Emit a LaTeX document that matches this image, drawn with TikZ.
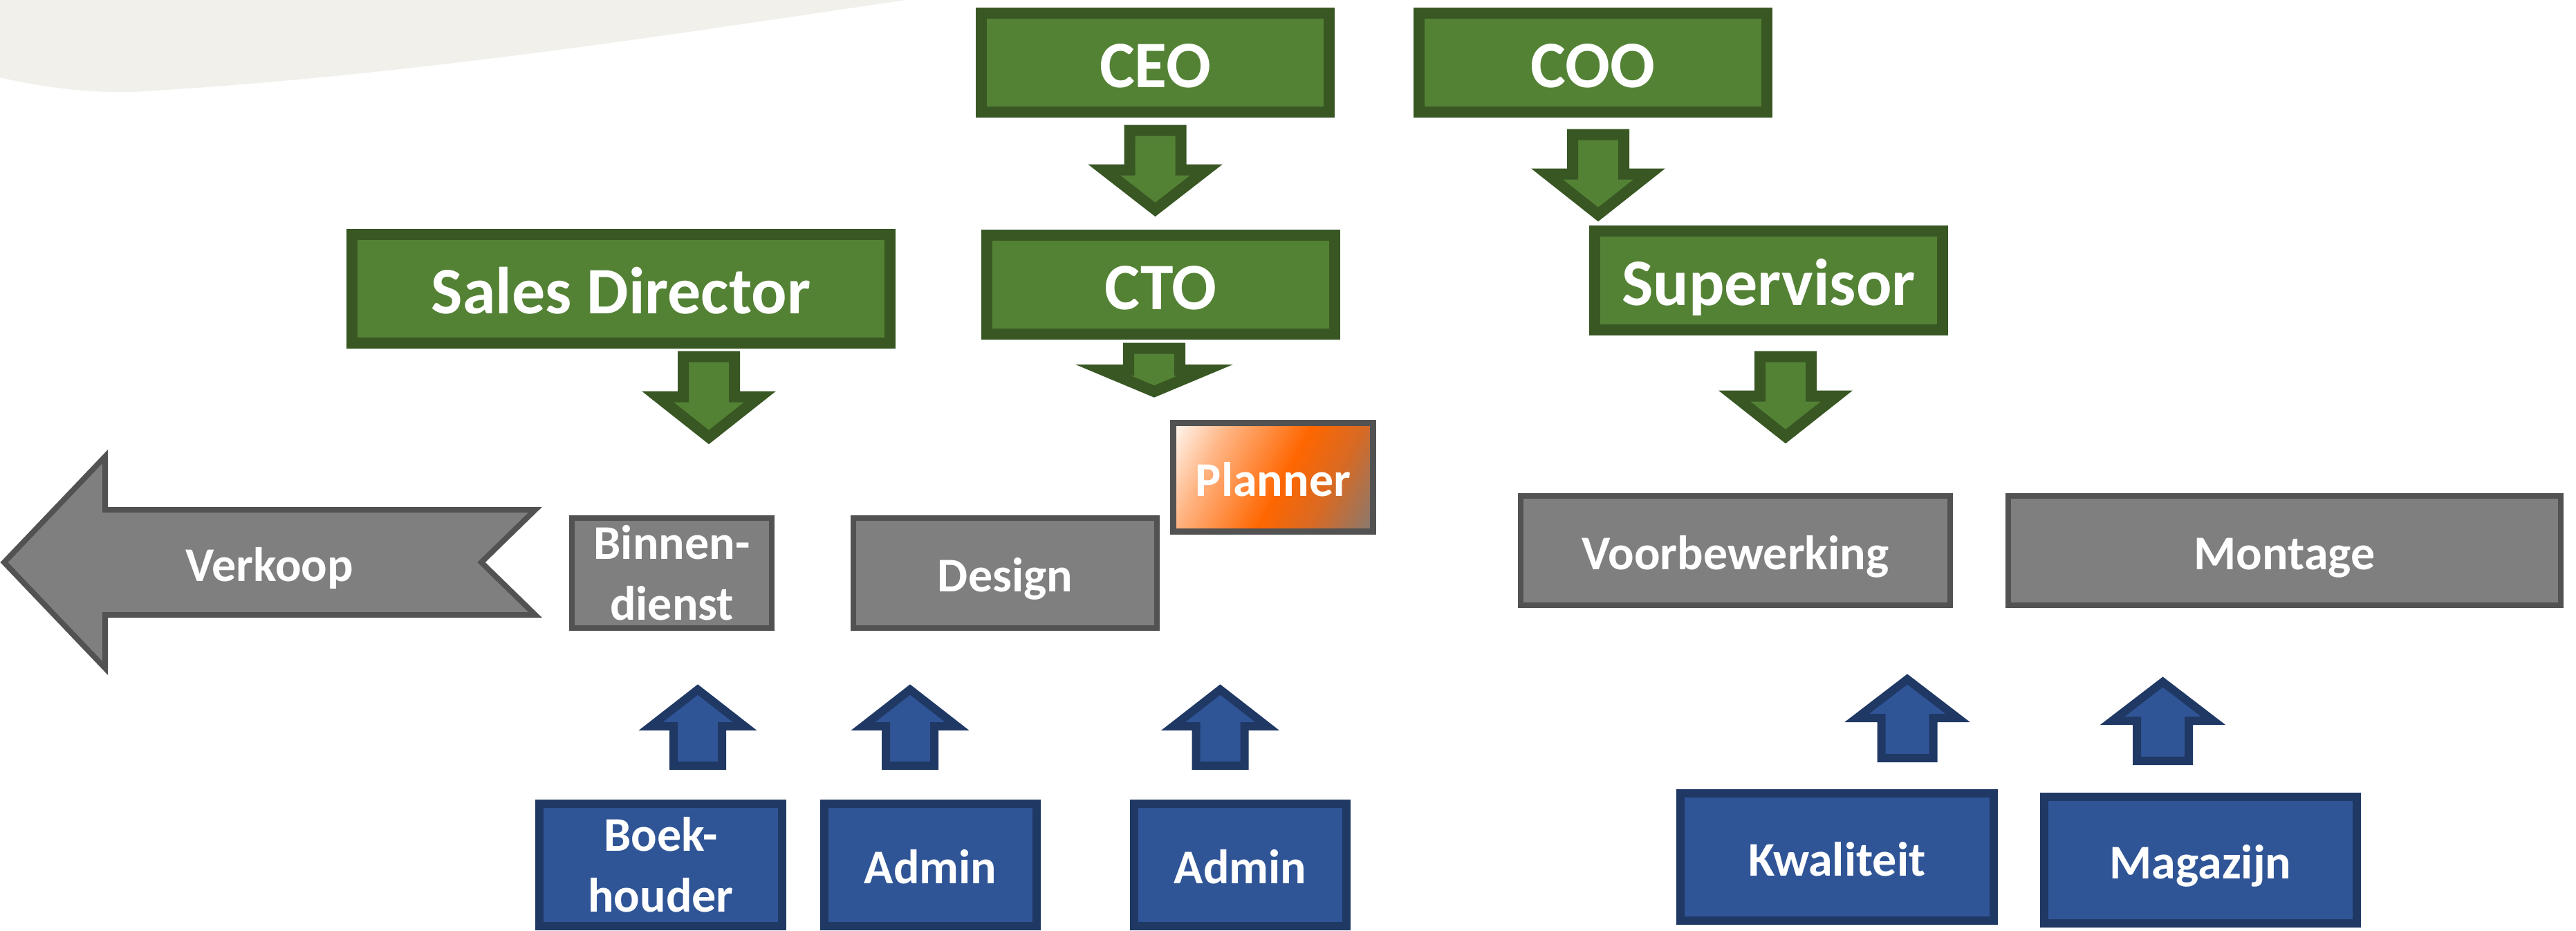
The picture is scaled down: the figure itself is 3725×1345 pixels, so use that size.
\documentclass[tikz,border=0pt]{standalone}
\usepackage{fontspec}
\usetikzlibrary{calc}
\setmainfont{Carlito}
\definecolor{gfill}{HTML}{548235}
\definecolor{gline}{HTML}{385723}
\definecolor{grfill}{HTML}{7F7F7F}
\definecolor{grline}{HTML}{525252}
\definecolor{bfill}{HTML}{2F5597}
\definecolor{bline}{HTML}{203864}
\definecolor{swooshc}{HTML}{F1F0EB}
\definecolor{pka}{HTML}{FFFAF5}
\definecolor{pkb}{HTML}{FFB584}
\definecolor{pkc}{HTML}{FF6600}
\definecolor{pkd}{HTML}{D86A24}
\definecolor{pke}{HTML}{857A72}
\newcommand{\bigfnt}{\fontsize{96}{115}\selectfont\bfseries}
\newcommand{\smallfnt}{\fontsize{70}{88}\selectfont\bfseries}
\newcommand{\blockarrow}[7]{\draw[#1] ({#2-#3},#4) -- ({#2+#3},#4) -- ({#2+#3},#5) -- ({#2+#6},#5) -- (#2,#7) -- ({#2-#6},#5) -- ({#2-#3},#5) -- cycle;}
\newcommand{\stripcolor}[1]{%
  \ifdim #1pt<0.22pt \pgfmathtruncatemacro{\pct}{100*#1/0.22}\colorlet{sc}{pkb!\pct!pka}%
  \else\ifdim #1pt<0.546pt \pgfmathtruncatemacro{\pct}{100*(#1-0.22)/0.326}\colorlet{sc}{pkc!\pct!pkb}%
  \else\ifdim #1pt<0.75pt \pgfmathtruncatemacro{\pct}{100*(#1-0.546)/0.204}\colorlet{sc}{pkd!\pct!pkc}%
  \else \pgfmathtruncatemacro{\pct}{100*(#1-0.75)/0.25}\colorlet{sc}{pke!\pct!pkd}%
  \fi\fi\fi}
\begin{document}
\begin{tikzpicture}[x=1pt,y=-1pt,
  greenbox/.style={draw=gline, fill=gfill, line width=16pt, inner sep=0pt, text=white, font=\bigfnt, minimum width=503pt, minimum height=143pt, text height=72pt, text depth=0pt},
  graybox/.style={draw=grline, fill=grfill, line width=8pt, inner sep=0pt, text=white, font=\smallfnt},
  bluebox/.style={draw=bline, fill=bfill, line width=12pt, inner sep=0pt, text=white, font=\smallfnt},
  capS/.style={text height=54pt, text depth=0pt},
  garrow/.style={draw=gline, fill=gfill, line width=16pt, line join=miter},
  barrow/.style={draw=bline, fill=bfill, line width=12pt, line join=miter},
  grarrow/.style={draw=grline, fill=grfill, line width=8pt, line join=miter}]
\useasboundingbox (0,0) rectangle (3725,1345);
\fill[white] (0,0) rectangle (3725,1345);
% background swoosh
\fill[swooshc] (0,0) -- (0,112) .. controls (70,128) and (130,134) .. (190,133) .. controls (600,110) and (1000,45) .. (1310,0) -- cycle;

% green boxes
\node[greenbox] (ceo) at (1670.5,90.5) {CEO};
\node[greenbox] (coo) at (2303.5,90.5) {COO};
\node[greenbox] (cto) at (1678.5,411.5) {CTO};
\node[greenbox] (sup) at (2557.5,405.5) {Supervisor};
\node[greenbox, minimum width=778pt, minimum height=157pt] (sales) at (898,417.5) {Sales Director};

% green arrows
\blockarrow{garrow}{1670.5}{37}{188.5}{245.5}{74}{303}
\blockarrow{garrow}{2311}{37}{194.5}{251.5}{74}{310}
\blockarrow{garrow}{1669}{37}{503.5}{535}{74}{566}
\blockarrow{garrow}{2582}{37}{515.5}{572.5}{74}{631}
\blockarrow{garrow}{1025}{37}{515.5}{573.5}{74}{632}

% gray boxes
\node[graybox, minimum width=289pt, minimum height=159pt, align=center] (binnen) at (971.5,828.5) {Binnen-\\dienst};
\node[graybox, capS, minimum width=439pt, minimum height=159pt] (design) at (1453.5,828.5) {Design};
\node[graybox, capS, minimum width=621pt, minimum height=158pt] (voor) at (2509.5,796) {Voorbewerking};
\node[graybox, capS, minimum width=799pt, minimum height=158pt] (montage) at (3303.5,796) {Montage};
\node[draw=grline, line width=9pt, inner sep=0pt, text=white, font=\smallfnt, capS, minimum width=289pt, minimum height=157pt,
  path picture={
    \foreach \i in {0,...,84}{
      \pgfmathsetmacro{\sa}{-170+4*\i}
      \pgfmathsetmacro{\sb}{\sa+4.8}
      \pgfmathsetmacro{\tm}{max(0,min(0.999,(\sa+166)/328))}
      \stripcolor{\tm}
      \fill[sc] ($(path picture bounding box.center)+({0.883*\sa+93.8},{0.469*\sa-176.6})$)
        -- ($(path picture bounding box.center)+({0.883*\sb+93.8},{0.469*\sb-176.6})$)
        -- ($(path picture bounding box.center)+({0.883*\sb-93.8},{0.469*\sb+176.6})$)
        -- ($(path picture bounding box.center)+({0.883*\sa-93.8},{0.469*\sa+176.6})$) -- cycle;
    }
  }] (planner) at (1841,690) {Planner};

% Verkoop arrow
\draw[grarrow] (6,813) -- (152,660) -- (152,737) -- (774,737) -- (696,813) -- (774,889) -- (152,889) -- (152,966) -- cycle;
\node[text=white, font=\smallfnt, capS, inner sep=0pt] (verkoop) at (390,813) {Verkoop};

% blue arrows
\blockarrow{barrow}{1009}{35}{1107}{1050}{68}{997}
\blockarrow{barrow}{1316}{35}{1107}{1050}{68}{997}
\blockarrow{barrow}{1764.5}{35}{1107}{1050}{68}{997}
\blockarrow{barrow}{2758}{37.5}{1096}{1038}{73}{982}
\blockarrow{barrow}{3127.5}{37.5}{1100}{1042}{73}{986}

% blue boxes
\node[bluebox, minimum width=351pt, minimum height=177pt, align=center] (boek) at (955.5,1250.5) {Boek-\\houder};
\node[bluebox, capS, minimum width=307pt, minimum height=177pt] (admina) at (1345.5,1250.5) {Admin};
\node[bluebox, capS, minimum width=307pt, minimum height=177pt] (adminb) at (1793.5,1250.5) {Admin};
\node[bluebox, capS, minimum width=453pt, minimum height=184pt] (kwal) at (2656.5,1239) {Kwaliteit};
\node[bluebox, capS, minimum width=452pt, minimum height=183pt] (maga) at (3182,1243.5) {Magazijn};
\end{tikzpicture}
\end{document}
